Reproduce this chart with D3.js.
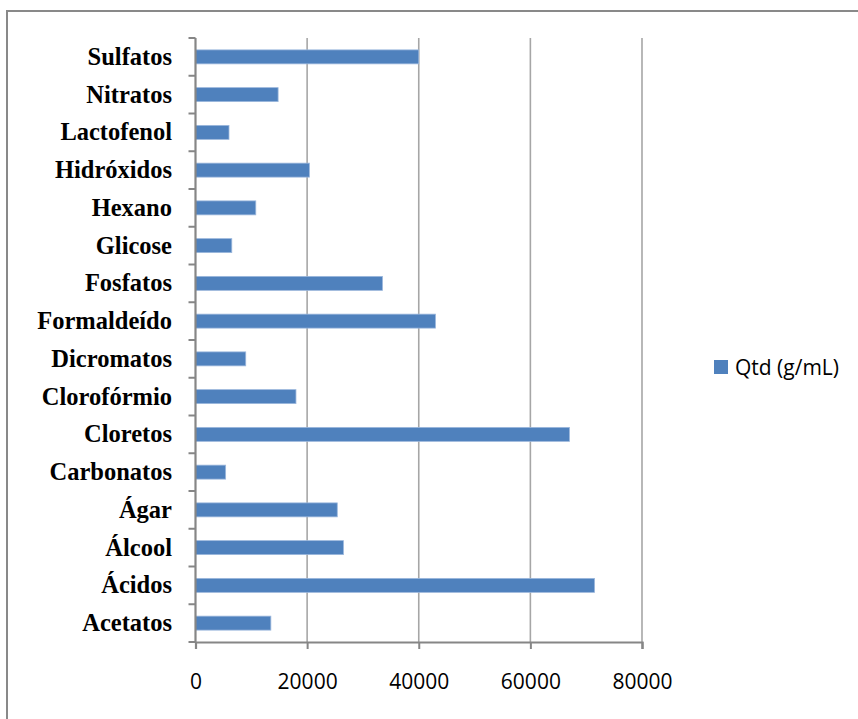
<!DOCTYPE html>
<html>
<head>
<meta charset="utf-8">
<script src="https://cdn.jsdelivr.net/npm/d3@7"></script>
<style>
  html, body { margin: 0; padding: 0; background: #fff; }
  svg { display: block; }
</style>
</head>
<body>
<svg id="chart" width="858" height="719"></svg>
<script>
// Data (top to bottom as displayed)
const categories = ["Sulfatos", "Nitratos", "Lactofenol", "Hidróxidos", "Hexano", "Glicose", "Fosfatos", "Formaldeído", "Dicromatos", "Clorofórmio", "Cloretos", "Carbonatos", "Ágar", "Álcool", "Ácidos", "Acetatos"];
const values = [40000, 14800, 6000, 20400, 10800, 6500, 33500, 43000, 9000, 18000, 67000, 5400, 25400, 26500, 71500, 13500];
const xTicks = [0, 20000, 40000, 60000, 80000];
const seriesName = "Qtd (g/mL)";

const svg = d3.select("#chart");
const barColor = "#4F81BD";
const axisColor = "#868686";
const gridColor = "#a6a6a6";

// Outer chart border (cut at right/bottom)
svg.append("rect")
  .attr("x", 7).attr("y", 11)
  .attr("width", 900).attr("height", 800)
  .attr("fill", "none").attr("stroke", "#898989").attr("stroke-width", 2);

const plot = { left: 195.5, right: 642, top: 38, bottom: 642 };

const x = d3.scaleLinear().domain([0, 80000]).range([plot.left, plot.right]);
const y = d3.scaleBand().domain(categories).range([plot.top, plot.bottom])
  .paddingInner(0.63).paddingOuter(0.315);

// Gridlines
svg.append("g").selectAll("line").data(xTicks.slice(1)).join("line")
  .attr("x1", d => x(d)).attr("x2", d => x(d))
  .attr("y1", plot.top).attr("y2", plot.bottom)
  .attr("stroke", gridColor).attr("stroke-width", 1.6);

// Bars
svg.append("g").selectAll("rect").data(categories).join("rect")
  .attr("x", x(0))
  .attr("y", d => y(d))
  .attr("width", (d, i) => x(values[i]) - x(0))
  .attr("height", y.bandwidth())
  .attr("fill", barColor)
  .attr("stroke", "#9bb7dc").attr("stroke-width", 0.8);

// X axis
const xAxis = d3.axisBottom(x).tickValues(xTicks).tickSize(7).tickPadding(25)
  .tickFormat(d3.format("d"));
const gx = svg.append("g").attr("transform", `translate(0,${plot.bottom})`).call(xAxis);
gx.select(".domain").attr("stroke", axisColor).attr("stroke-width", 2.2);
gx.selectAll(".tick line").attr("stroke", axisColor).attr("stroke-width", 2);
gx.selectAll(".tick text")
  .attr("font-family", "'Open Sans', sans-serif").attr("font-size", 21)
  .attr("fill", "#000");

// Y axis line and ticks at band boundaries
const step = y.step();
const boundaries = d3.range(categories.length + 1).map(i => plot.top + i * step);
svg.append("line")
  .attr("x1", plot.left).attr("x2", plot.left)
  .attr("y1", plot.top).attr("y2", plot.bottom)
  .attr("stroke", axisColor).attr("stroke-width", 2.2);
svg.append("g").selectAll("line").data(boundaries).join("line")
  .attr("x1", plot.left - 7).attr("x2", plot.left)
  .attr("y1", d => d).attr("y2", d => d)
  .attr("stroke", axisColor).attr("stroke-width", 2);

// Category labels
svg.append("g").selectAll("text").data(categories).join("text")
  .attr("x", 172)
  .attr("y", d => y(d) + y.bandwidth() / 2 + 8)
  .attr("text-anchor", "end")
  .attr("font-family", "'Liberation Serif', 'Times New Roman', serif")
  .attr("font-weight", "bold")
  .attr("font-size", 24.5)
  .attr("fill", "#000")
  .text(d => d);

// Legend
const lg = svg.append("g");
lg.append("rect").attr("x", 714).attr("y", 360).attr("width", 14).attr("height", 14)
  .attr("fill", barColor);
lg.append("text").attr("x", 735).attr("y", 375)
  .attr("font-family", "'Open Sans', sans-serif").attr("font-size", 21)
  .attr("fill", "#000").text(seriesName);
</script>
</body>
</html>
